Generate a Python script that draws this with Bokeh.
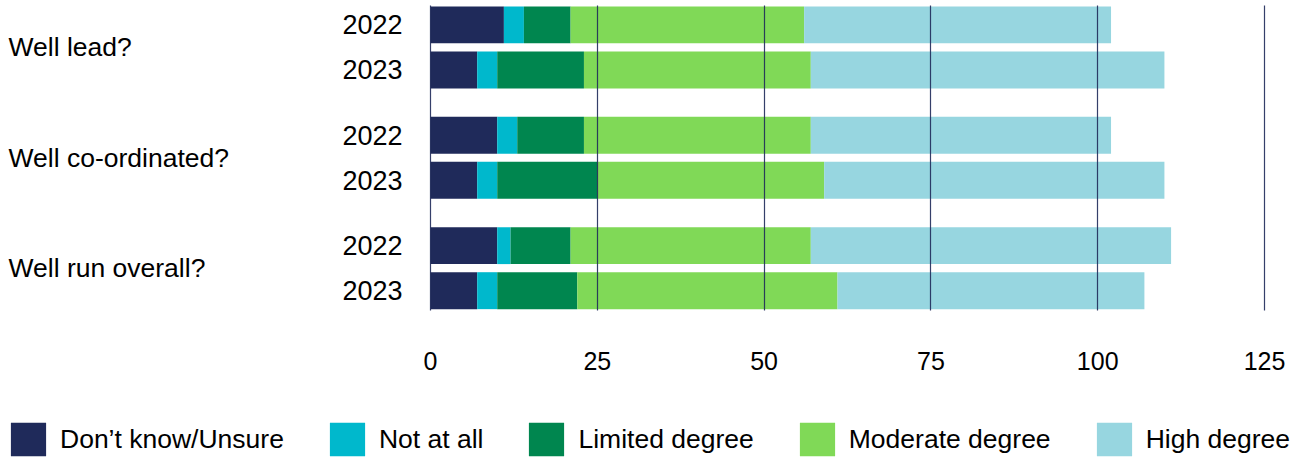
from bokeh.plotting import figure
from bokeh.models import ColumnDataSource, Range1d, FixedTicker, Legend, LegendItem
from bokeh.core.properties import value
from bokeh.embed import file_html
from bokeh.resources import INLINE

# Survey responses by question and year
questions = ["Well lead?", "Well co-ordinated?", "Well run overall?"]
years = ["2022", "2023"]

dont_know = [11, 7, 10, 7, 10, 7]
not_at_all = [3, 3, 3, 3, 2, 3]
limited = [7, 13, 10, 15, 9, 12]
moderate = [35, 34, 34, 34, 36, 39]
high = [46, 53, 45, 51, 54, 46]

series_names = ["Don’t know/Unsure", "Not at all", "Limited degree",
                "Moderate degree", "High degree"]
series_keys = ["dont_know", "not_at_all", "limited", "moderate", "high"]
colors = ["#1f2a5a", "#00b8cc", "#00864f", "#80d957", "#97d6e0"]
x_ticks = [0, 25, 50, 75, 100, 125]

FONT = "Liberation Sans"

# Page geometry (pixels)
W, H = 1302, 459
ZERO_PX, MAX_PX = 430, 1264          # where 0 and 125 sit across the page
BARS_TOP_PX, BARS_BOT_PX = 5, 310    # vertical extent of the bar area
PX_PER_UNIT = (MAX_PX - ZERO_PX) / x_ticks[-1]

# Row layout: two bars per question, with an extra gap between questions
ROW = 100
GAP = 45
pos = [g * (2 * ROW + GAP) + j * ROW for g in range(len(questions)) for j in range(len(years))]
row_years = [yr for _ in questions for yr in years]
group_mid = [(pos[2 * g] + pos[2 * g + 1]) / 2 for g in range(len(questions))]

Y_TOP = pos[0] - 43
Y_BOT = pos[-1] + 44
PX_PER_Y = (BARS_BOT_PX - BARS_TOP_PX) / (Y_BOT - Y_TOP)

source = ColumnDataSource(data=dict(
    y=pos,
    dont_know=dont_know,
    not_at_all=not_at_all,
    limited=limited,
    moderate=moderate,
    high=high,
))

p = figure(
    width=W, height=H,
    x_range=Range1d(-ZERO_PX / PX_PER_UNIT, (W - ZERO_PX) / PX_PER_UNIT),
    y_range=Range1d(Y_BOT + (H - BARS_BOT_PX) / PX_PER_Y, Y_TOP - BARS_TOP_PX / PX_PER_Y),
    output_backend="svg", toolbar_location=None,
    min_border=0,
)

renderers = p.hbar_stack(series_keys, y="y", height=82, color=colors,
                         line_color=None, source=source)

# Vertical grid lines drawn above the bars, limited to the bar area
p.xgrid.ticker = FixedTicker(ticks=x_ticks)
p.xgrid.cross_bounds = (Y_TOP, Y_BOT)
p.xgrid.grid_line_color = "#1f2a5a"
p.xgrid.grid_line_alpha = 0.9
p.xgrid.grid_line_width = 1.2
p.xgrid.level = "overlay"
p.ygrid.visible = False

p.outline_line_color = None
p.background_fill_color = "white"
p.border_fill_color = "white"

# x axis pinned under the bar area: value labels only
p.xaxis.fixed_location = Y_BOT
p.xaxis.ticker = FixedTicker(ticks=x_ticks)
p.xaxis.axis_line_color = None
p.xaxis.major_tick_line_color = None
p.xaxis.major_tick_out = 0
p.xaxis.minor_tick_line_color = None
p.xaxis.major_label_standoff = 41
p.xaxis.major_label_text_font = FONT
p.xaxis.major_label_text_font_size = "25px"
p.xaxis.major_label_text_color = "black"

# y axis pinned at zero: year label for each bar
p.yaxis.fixed_location = 0
p.yaxis.ticker = FixedTicker(ticks=pos)
p.yaxis.major_label_overrides = {v: yr for v, yr in zip(pos, row_years)}
p.yaxis.axis_line_color = None
p.yaxis.major_tick_line_color = None
p.yaxis.major_tick_out = 0
p.yaxis.minor_tick_line_color = None
p.yaxis.major_label_standoff = 28
p.yaxis.major_label_text_font = FONT
p.yaxis.major_label_text_font_size = "27px"
p.yaxis.major_label_text_color = "black"

# Question labels, left-aligned at the page edge
p.text(x=[-(ZERO_PX - 8) / PX_PER_UNIT] * len(questions), y=group_mid, text=questions,
       text_align="left", text_baseline="middle",
       text_font=value(FONT), text_font_size="26.5px", text_color="black")

legend = Legend(
    items=[LegendItem(label=name, renderers=[r]) for name, r in zip(series_names, renderers)],
    orientation="horizontal",
    location=(6, -1),
    glyph_width=44, glyph_height=42, label_height=42,
    label_standoff=10, spacing=41,
    padding=0, margin=0,
    border_line_color=None, background_fill_alpha=0,
    label_text_font=FONT, label_text_font_size="26.5px", label_text_color="black",
)
p.add_layout(legend)

open("out.html", "w").write(file_html(p, INLINE))
